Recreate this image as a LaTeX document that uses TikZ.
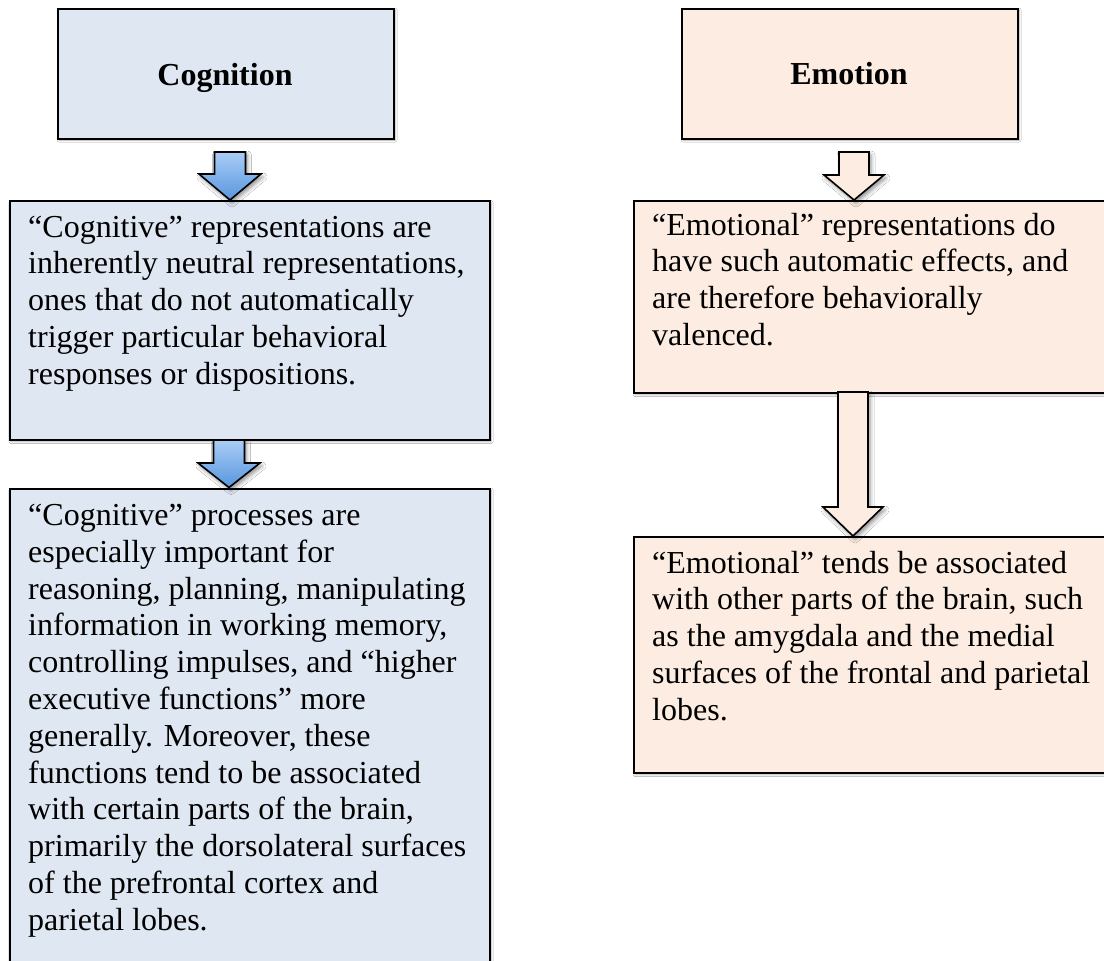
\documentclass[tikz,border=0pt]{standalone}
\usepackage{fontspec}
\setmainfont{Liberation Serif}
\usetikzlibrary{shadows.blur,calc}
\definecolor{cogfill}{RGB}{223,231,242}
\definecolor{emofill}{RGB}{252,236,225}
\definecolor{arrtop}{RGB}{170,205,246}
\definecolor{arrbot}{RGB}{88,150,222}
\tikzset{
  box/.style={draw=black, line width=2pt, inner sep=0pt, anchor=north west,
    blur shadow={shadow xshift=1pt, shadow yshift=-1.5pt, shadow blur radius=2pt, shadow opacity=35}},
  cogbox/.style={box, fill=cogfill},
  emobox/.style={box, fill=emofill},
  bodytext/.style={inner sep=0pt, anchor=north west, align=left,
    font=\fontsize{32}{36.8}\selectfont},
  titletext/.style={inner sep=0pt, anchor=base, font=\fontsize{32}{36.8}\selectfont\bfseries},
  blockarrow/.style={draw=black, line width=1.6pt, line join=miter,
    blur shadow={shadow xshift=2pt, shadow yshift=-3pt, shadow blur radius=4pt, shadow opacity=45}},
  bluearrow/.style={blockarrow, top color=arrtop, bottom color=arrbot},
  peacharrow/.style={blockarrow, fill=emofill}
}
% #1 style, #2 centre x, #3 top y, #4 wing y, #5 target anchor (tip), #6 half shaft, #7 half head
\newcommand\blockarr[7]{%
  \draw[#1] ({#2-#6},#3) -- ({#2+#6},#3) -- ({#2+#6},#4) -- ({#2+#7},#4)
    -- (#2,0 |- #5) -- ({#2-#7},#4) -- ({#2-#6},#4) -- cycle;}
\begin{document}
\begin{tikzpicture}[x=1pt,y=-1pt]
\useasboundingbox[fill=white] (0,0) rectangle (1104,961);

% top boxes
\node[cogbox, minimum width=336pt, minimum height=130pt] (cog) at (57,7.5) {};
\node[titletext] (cogt) at (225,85) {Cognition};
\node[emobox, minimum width=336pt, minimum height=130pt] (emo) at (681,7.5) {};
\node[titletext] (emot) at (849,84) {Emotion};

% left column
\node[cogbox, minimum width=480pt, minimum height=239pt] (cog2) at (9,200) {};
\node[bodytext] (cog2t) at (28,211.2) {\strut“Cognitive” representations are\\
inherently neutral representations,\\
ones that do not automatically\\
trigger particular behavioral\\
responses or dispositions.};

\node[cogbox, minimum width=480pt, minimum height=520pt] (cog3) at (9,487.5) {};
\node[bodytext] (cog3t) at (28,499.5) {\strut“Cognitive” processes are\\
especially important for\\
reasoning, planning, manipulating\\
information in working memory,\\
controlling impulses, and “higher\\
executive functions” more\\
generally. Moreover, these\\
functions tend to be associated\\
with certain parts of the brain,\\
primarily the dorsolateral surfaces\\
of the prefrontal cortex and\\
parietal lobes.};

% right column
\node[emobox, minimum width=490pt, minimum height=192pt] (emo2) at (633,200) {};
\node[bodytext] (emo2t) at (652,209.2) {\strut“Emotional” representations do\\
have such automatic effects, and\\
are therefore behaviorally\\
valenced.};

\node[emobox, minimum width=490pt, minimum height=236pt] (emo3) at (633,536) {};
\node[bodytext] (emo3t) at (652,547.2) {\strut“Emotional” tends be associated\\
with other parts of the brain, such\\
as the amygdala and the medial\\
surfaces of the frontal and parietal\\
lobes.};

% block arrows
\blockarr{bluearrow}{230}{152}{174}{cog2.north}{15.5}{31}
\blockarr{bluearrow}{229}{440}{463}{cog3.north}{15.5}{31}
\blockarr{peacharrow}{854}{152}{175}{emo2.north}{15}{30}
\blockarr{peacharrow}{853}{392}{507}{emo3.north}{15}{30}
\end{tikzpicture}
\end{document}
